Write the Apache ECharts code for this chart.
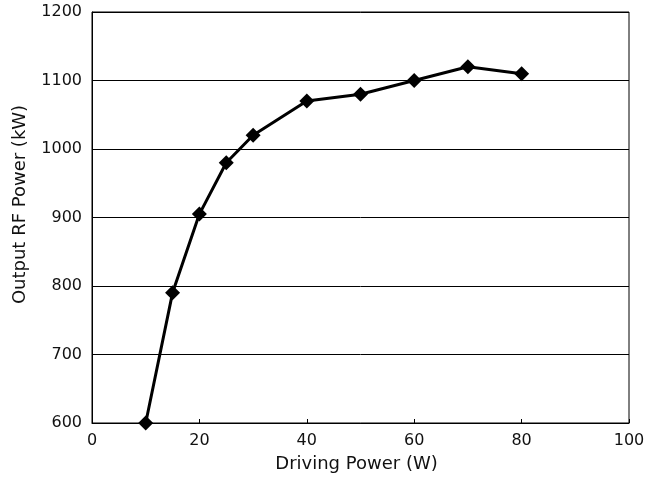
<!DOCTYPE html>
<html><head><meta charset="utf-8">
<script src="https://cdn.jsdelivr.net/npm/echarts@6/dist/echarts.min.js"></script>
<style>html,body{margin:0;padding:0;background:#fff}#c{width:653px;height:479px}</style>
</head><body><div id="c"></div>
<script>
const xValues = [10, 15, 20, 25, 30, 40, 50, 60, 70, 80];
const yValues = [600, 790, 905, 980, 1020, 1070, 1080, 1100, 1120, 1110];
const xTitle = 'Driving Power (W)';
const yTitle = 'Output RF Power (kW)';

const chart = echarts.init(document.getElementById('c'));
const font = 'DejaVu Sans, sans-serif';
chart.setOption({
  animation: false,
  grid: { left: 92, right: 24, top: 12, bottom: 56, show: true, borderColor: '#000', borderWidth: 1 },
  xAxis: {
    type: 'value', min: 0, max: 100, interval: 20,
    name: xTitle, nameLocation: 'middle', nameGap: 32,
    nameTextStyle: { fontFamily: font, fontSize: 18, color: '#111', padding: [0, 8, 0, 0] },
    axisLine: { show: true, lineStyle: { color: '#000', width: 1 } },
    axisTick: { show: true, inside: true, length: 4, lineStyle: { color: '#000' } },
    axisLabel: { fontFamily: font, fontSize: 16, color: '#111', margin: 10, formatter: v => String(v) },
    splitLine: { show: false }
  },
  yAxis: {
    type: 'value', min: 600, max: 1200, interval: 100,
    name: yTitle, nameLocation: 'middle', nameGap: 63, nameRotate: 90,
    nameTextStyle: { fontFamily: font, fontSize: 18, color: '#111', padding: [0, 0, 0, 26] },
    axisLine: { show: true, lineStyle: { color: '#000', width: 1 } },
    axisTick: { show: false },
    axisLabel: { fontFamily: font, fontSize: 16, color: '#111', margin: 10, formatter: v => String(v) },
    splitLine: { show: true, lineStyle: { color: '#000', width: 1 } }
  },
  series: [{
    type: 'line',
    data: xValues.map((x, i) => [x, yValues[i]]),
    symbol: 'diamond', symbolSize: 15,
    lineStyle: { color: '#000', width: 3 },
    itemStyle: { color: '#000' }
  }]
});
</script></body></html>
